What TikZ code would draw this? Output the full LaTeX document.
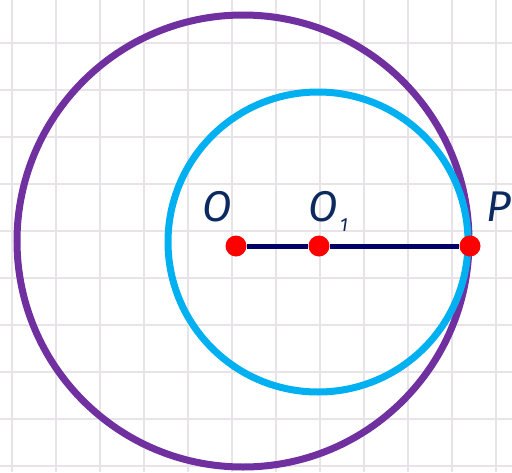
\documentclass[tikz,border=0pt]{standalone}
\usepackage{fontspec}
\setmainfont{Fira Sans}
\definecolor{gridc}{HTML}{E8E3E6}
\definecolor{purp}{HTML}{7030A0}
\definecolor{cyanc}{HTML}{00B0F0}
\definecolor{navy}{HTML}{000066}
\definecolor{lab}{HTML}{0D2A60}
\begin{document}
\begin{tikzpicture}[x=1pt,y=-1pt,
  gridline/.style={gridc, line width=1.8pt},
  dot/.style={circle, fill=red, inner sep=0pt, minimum size=21pt},
  ring/.style={line width=7pt},
  lbl/.style={text=lab, font=\fontsize{43}{43}\selectfont\itshape, inner sep=0pt},
  sub/.style={text=lab, font=\fontsize{19}{19}\selectfont\itshape, inner sep=0pt}]
\useasboundingbox (0,0) rectangle (512,472);
\clip (0,0) rectangle (512,472);
\fill[white] (0,0) rectangle (512,472);
% grid
\foreach \gx in {12,56,100,144,188,232,276,320,364,408,452,496}
  \draw[gridline] (\gx,0) -- (\gx,472);
\foreach \gy in {43,90,137,184,231,278,325,372,419,466}
  \draw[gridline] (0,\gy) -- (512,\gy);
% circles
\draw[ring, purp] (243,241) circle (226);
\draw[ring, cyanc] (318,242) circle (150);
% points
\node[dot] (O) at (236,246) {};
\node[dot] (O1) at (319,246) {};
\node[dot] (P) at (470,246) {};
\draw[navy, line width=5pt] (O) -- (O1) -- (P);
% labels
\node[lbl] (lO) at (217,207) {O};
\node[lbl] (lO1) at (323,207) {O};
\node[sub] (l1) at (344,225) {1};
\node[lbl, anchor=west] (lP) at (486,207) {P};
\end{tikzpicture}
\end{document}
